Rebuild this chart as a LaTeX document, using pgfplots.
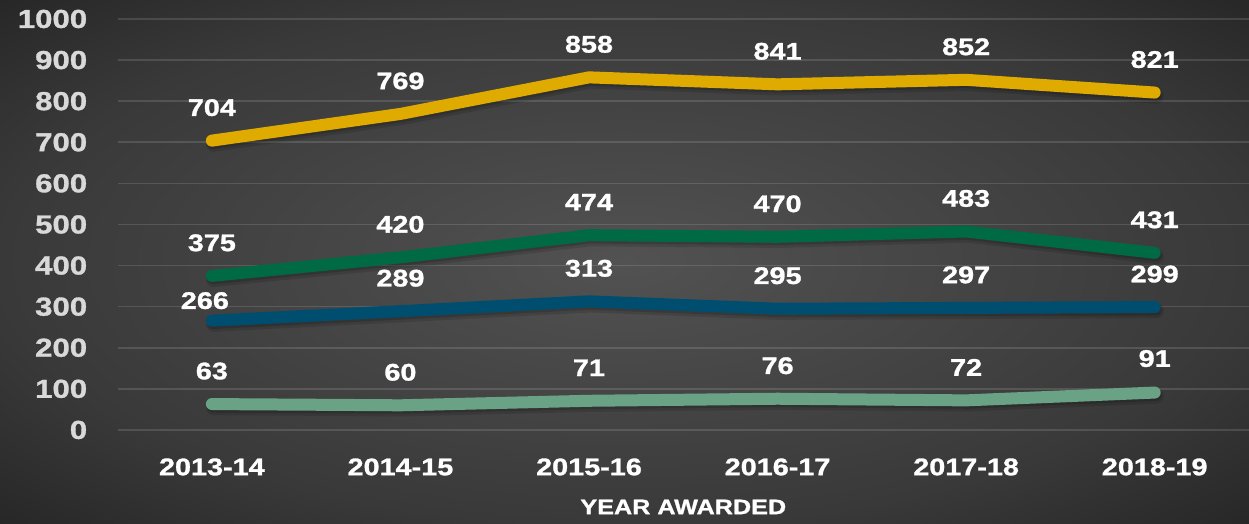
\documentclass[border=0pt]{standalone}
\usepackage{pgfplots}
\pgfplotsset{compat=1.18}
\usepackage{pgfplotstable}
\usepackage{fontspec}
\setmainfont{Liberation Sans}[FakeStretch=1.2, BoldFeatures={FakeBold=1.2}]

\definecolor{cYellow}{HTML}{E0AB00}
\definecolor{cGreen}{HTML}{006A45}
\definecolor{cBlue}{HTML}{004E6F}
\definecolor{cLight}{HTML}{6AA286}
\definecolor{bgin}{HTML}{525252}
\definecolor{bgmid}{HTML}{393939}
\definecolor{bgout}{HTML}{262626}
\definecolor{tickgray}{HTML}{D9D9D9}

\pgfdeclareradialshading{bgshade}{\pgfpoint{0bp}{0bp}}{%
  color(0bp)=(bgin); color(25bp)=(bgmid); color(36bp)=(bgout); color(50bp)=(bgout)}

% x = category index, y = value, dx/dy = label offset (pt)
\pgfplotstableread{
x y dx dy
0 704 0 16.5
1 769 0 16.5
2 858 0 16.5
3 841 0 16.5
4 852 0 16.5
5 821 0 16.5
}\yellowdata
\pgfplotstableread{
x y dx dy
0 375 0 16.5
1 420 0 16.5
2 474 0 16.5
3 470 0 16.5
4 483 0 16.5
5 431 0 16.5
}\greendata
\pgfplotstableread{
x y dx dy
0 266 -3.5 10
1 289 0 16.5
2 313 0 16.5
3 295 0 16.5
4 297 0 16.5
5 299 0 16.5
}\bluedata
\pgfplotstableread{
x y dx dy
0 63 0 16.5
1 60 0 16.5
2 71 0 16.5
3 76 0 16.5
4 72 0 16.5
5 91 0 17
}\lightdata

\pgfplotsset{
  shadowA/.style={black, opacity=0.12, line width=7.5pt, xshift=0.8pt, yshift=-1.8pt, forget plot},
  shadowB/.style={black, opacity=0.15, line width=6pt, xshift=0.5pt, yshift=-1.2pt, forget plot},
  labelled/.style={
    nodes near coords,
    visualization depends on={\thisrow{dx} \as \dx},
    visualization depends on={\thisrow{dy} \as \dy},
    nodes near coords style={anchor=center, inner sep=0pt, text=white, opacity=1,
      font=\bfseries\fontsize{12}{12}\selectfont, xshift=\dx pt, yshift=\dy pt},
  },
}

\begin{document}
\begin{tikzpicture}
  % background (1px = 0.5pt)
  \path[use as bounding box] (-58.8pt,-47pt) rectangle (565.75pt,215pt);
  \fill[shading=bgshade] (-58.8pt,-47pt) rectangle (565.75pt,215pt);

  \begin{axis}[
      scale only axis,
      width=565.75pt, height=205.5pt,
      at={(0,0)}, anchor=south west,
      xmin=-0.5, xmax=5.5,
      ymin=0, ymax=1000,
      xtick={0,...,5},
      xticklabels={2013-14,2014-15,2015-16,2016-17,2017-18,2018-19},
      ytick={0,100,...,1000},
      axis line style={draw=none},
      major tick length=0pt,
      tick style={draw=none},
      ymajorgrids,
      major grid style={white, opacity=0.13, line width=0.8pt},
      /pgf/number format/assume math mode=true,
      /pgf/number format/1000 sep={},
      yticklabel style={anchor=east, inner sep=0pt, xshift=-15pt,
        text=tickgray, font=\bfseries\fontsize{13}{13}\selectfont},
      xticklabel style={anchor=center, inner sep=0pt, yshift=-18.5pt,
        text=white, font=\bfseries\fontsize{12}{12}\selectfont},
      clip=false,
      every axis plot/.append style={line width=6pt, line cap=round, line join=round},
    ]
    % soft shadows
    \addplot[shadowA] table[x=x,y=y] \lightdata;
    \addplot[shadowB] table[x=x,y=y] \lightdata;
    \addplot[shadowA] table[x=x,y=y] \bluedata;
    \addplot[shadowB] table[x=x,y=y] \bluedata;
    \addplot[shadowA] table[x=x,y=y] \greendata;
    \addplot[shadowB] table[x=x,y=y] \greendata;
    \addplot[shadowA] table[x=x,y=y] \yellowdata;
    \addplot[shadowB] table[x=x,y=y] \yellowdata;

    \addplot[cLight, mark=none, labelled] table[x=x,y=y] \lightdata;
    \addplot[cBlue, mark=none, labelled] table[x=x,y=y] \bluedata;
    \addplot[cGreen, mark=none, labelled] table[x=x,y=y] \greendata;
    \addplot[cYellow, mark=none, labelled] table[x=x,y=y] \yellowdata;

    \node[text=white, font=\bfseries\fontsize{10.5}{10.5}\selectfont, inner sep=0pt]
      at (rel axis cs:0.5,0) [yshift=-38.5pt] {YEAR AWARDED};
  \end{axis}
\end{tikzpicture}
\end{document}
